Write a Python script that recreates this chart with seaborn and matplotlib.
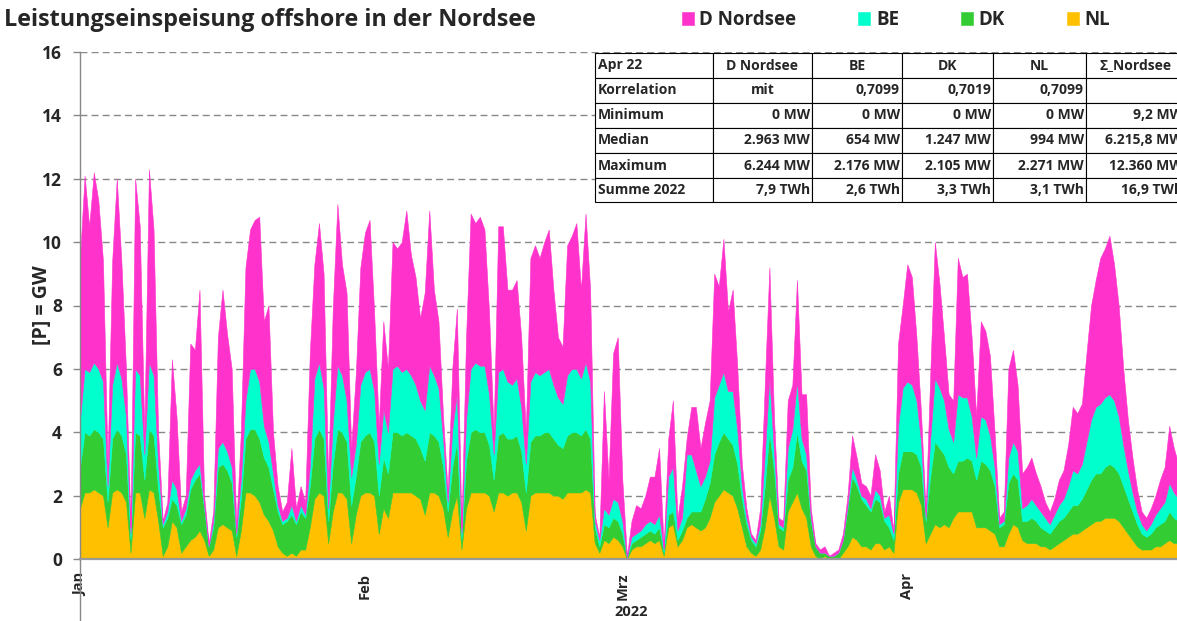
import pandas as pd
import matplotlib
matplotlib.use("Agg")
import matplotlib.pyplot as plt
import matplotlib.patches as mpatches
import seaborn as sns

# Leistung in GW, Stuetzstellen alle 12 Stunden ab 01.01.2022
zeit = pd.date_range("2022-01-01", periods=240, freq="12h")

nl = [
    1.6, 2.1, 2.1, 2.2, 2.1, 2.0, 1.0, 2.1, 2.2, 2.1,
    1.8, 0.2, 2.1, 2.1, 1.3, 2.2, 2.1, 1.2, 0.1, 0.4,
    1.2, 1.0, 0.2, 0.4, 0.6, 0.7, 0.9, 0.6, 0.1, 0.3,
    1.0, 1.1, 1.0, 0.9, 0.1, 0.9, 2.1, 2.1, 2.0, 1.8,
    1.4, 1.2, 0.9, 0.4, 0.2, 0.1, 0.2, 0.1, 0.3, 0.3,
    1.0, 1.9, 2.1, 2.0, 0.5, 1.5, 2.1, 2.1, 1.9, 0.5,
    1.4, 2.0, 2.1, 2.1, 2.0, 0.8, 1.6, 1.3, 2.1, 2.1,
    2.1, 2.1, 2.1, 2.0, 1.9, 1.4, 2.1, 2.1, 2.0, 1.6,
    0.7, 1.5, 2.0, 0.3, 1.6, 2.1, 2.1, 2.1, 2.1, 2.0,
    1.5, 2.1, 2.1, 2.0, 2.1, 2.1, 1.8, 0.9, 2.0, 2.1,
    2.1, 2.1, 2.1, 2.0, 2.0, 1.9, 2.1, 2.1, 2.1, 2.1,
    2.2, 2.1, 0.5, 0.2, 0.6, 0.5, 0.7, 0.6, 0.4, 0.0,
    0.3, 0.4, 0.4, 0.5, 0.6, 0.5, 0.6, 0.1, 1.0, 1.1,
    0.4, 0.6, 1.0, 1.1, 1.0, 0.9, 1.0, 1.3, 1.8, 2.0,
    2.2, 2.1, 2.0, 1.6, 1.0, 0.4, 0.2, 0.1, 0.3, 1.0,
    2.0, 1.3, 0.4, 0.3, 1.5, 1.8, 2.1, 1.6, 1.3, 0.4,
    0.1, 0.0, 0.1, 0.0, 0.0, 0.0, 0.2, 0.4, 0.7, 0.6,
    0.4, 0.4, 0.3, 0.5, 0.5, 0.3, 0.4, 0.2, 1.8, 2.2,
    2.2, 2.2, 2.1, 1.7, 0.5, 0.8, 1.1, 1.0, 1.1, 1.0,
    1.3, 1.5, 1.5, 1.5, 1.5, 1.0, 1.0, 1.0, 0.9, 0.8,
    0.4, 0.4, 0.8, 1.1, 1.0, 0.6, 0.5, 0.5, 0.5, 0.4,
    0.4, 0.3, 0.4, 0.5, 0.6, 0.7, 0.8, 0.8, 0.9, 1.0,
    1.1, 1.2, 1.2, 1.3, 1.3, 1.3, 1.2, 1.0, 0.8, 0.6,
    0.4, 0.3, 0.3, 0.3, 0.4, 0.4, 0.5, 0.6, 0.5, 0.5,
]

dk = [
    1.3, 1.9, 1.8, 1.9, 1.9, 1.8, 0.8, 1.7, 1.9, 1.8,
    1.5, 0.4, 1.9, 1.8, 1.2, 1.9, 1.8, 1.0, 0.9, 0.9,
    0.7, 0.7, 0.9, 1.0, 1.6, 1.8, 1.8, 1.0, 0.3, 0.7,
    1.9, 1.9, 1.8, 1.5, 0.6, 1.0, 1.7, 2.0, 2.1, 2.0,
    1.8, 1.7, 1.3, 1.1, 0.9, 1.1, 1.2, 1.0, 1.2, 1.0,
    1.3, 1.9, 2.0, 1.8, 0.7, 1.5, 2.0, 1.9, 1.8, 1.2,
    1.2, 1.7, 1.8, 1.9, 1.7, 1.2, 1.6, 1.4, 1.9, 1.9,
    1.8, 1.9, 1.8, 1.8, 1.6, 1.7, 1.9, 1.8, 1.7, 1.3,
    0.8, 1.4, 1.7, 0.3, 1.5, 1.9, 2.0, 1.9, 1.9, 1.6,
    1.0, 1.8, 1.9, 1.8, 1.7, 1.8, 1.6, 1.2, 1.7, 1.8,
    1.8, 1.9, 1.9, 1.8, 1.6, 1.6, 1.8, 1.9, 1.9, 1.8,
    1.9, 1.7, 0.5, 0.2, 0.5, 0.5, 0.6, 0.6, 0.4, 0.05,
    0.2, 0.2, 0.3, 0.3, 0.3, 0.3, 0.4, 0.1, 0.4, 0.4,
    0.2, 0.3, 0.3, 0.4, 0.5, 0.6, 0.9, 1.1, 1.5, 1.7,
    1.8, 1.7, 1.6, 1.4, 0.9, 0.7, 0.4, 0.3, 0.6, 1.3,
    2.0, 1.5, 0.6, 0.6, 1.0, 1.1, 1.9, 1.5, 1.5, 0.8,
    0.3, 0.2, 0.1, 0.1, 0.1, 0.2, 0.4, 1.2, 1.9, 1.7,
    1.5, 1.3, 1.2, 1.4, 1.3, 0.9, 0.6, 0.4, 0.9, 1.2,
    1.2, 1.2, 1.2, 1.2, 0.7, 1.8, 2.6, 2.5, 2.2, 1.9,
    1.4, 1.6, 1.6, 1.7, 1.6, 1.5, 2.1, 2.0, 1.9, 1.5,
    0.6, 0.7, 1.6, 1.6, 1.5, 0.6, 0.7, 0.8, 0.7, 0.6,
    0.5, 0.5, 0.6, 0.7, 0.7, 0.8, 0.9, 0.9, 1.0, 1.2,
    1.4, 1.5, 1.5, 1.6, 1.7, 1.6, 1.5, 1.3, 1.1, 0.9,
    0.7, 0.5, 0.4, 0.5, 0.6, 0.7, 0.7, 0.9, 0.8, 0.7,
]

be = [
    1.5, 2.0, 2.0, 2.1, 2.0, 1.8, 0.5, 1.7, 2.1, 1.8,
    1.2, 0.2, 2.0, 1.9, 0.8, 2.1, 1.9, 0.8, 0.1, 0.2,
    0.6, 0.5, 0.1, 0.2, 0.3, 0.3, 0.3, 0.1, 0.0, 0.2,
    0.6, 0.7, 0.6, 0.5, 0.1, 0.6, 1.2, 1.9, 1.9, 1.8,
    1.0, 0.8, 0.5, 0.2, 0.1, 0.1, 0.3, 0.1, 0.2, 0.1,
    0.6, 1.9, 2.1, 1.6, 0.4, 1.3, 2.0, 1.8, 1.3, 0.9,
    1.0, 1.8, 2.0, 2.0, 1.6, 1.0, 1.5, 1.3, 2.0, 2.1,
    2.0, 2.0, 1.9, 1.7, 1.5, 1.6, 2.1, 1.9, 1.7, 0.9,
    0.3, 1.2, 1.5, 0.2, 1.3, 2.0, 2.1, 2.1, 2.1, 1.6,
    0.8, 2.0, 2.0, 1.8, 1.7, 1.8, 1.4, 0.9, 1.9, 2.0,
    1.9, 1.9, 2.0, 1.7, 1.5, 1.4, 1.9, 2.0, 2.0, 1.8,
    2.1, 1.8, 0.2, 0.2, 0.5, 0.4, 0.6, 0.6, 0.4, 0.0,
    0.2, 0.2, 0.2, 0.3, 0.3, 0.3, 0.4, 0.1, 1.2, 1.4,
    0.3, 0.4, 2.0, 1.8, 1.3, 0.8, 0.7, 0.7, 1.8, 1.8,
    1.9, 1.5, 1.7, 1.1, 0.4, 0.2, 0.1, 0.1, 0.2, 1.0,
    1.7, 0.6, 0.1, 0.1, 1.0, 1.2, 1.6, 0.7, 0.5, 0.1,
    0.0, 0.0, 0.0, 0.0, 0.0, 0.0, 0.0, 0.1, 0.3, 0.2,
    0.1, 0.2, 0.1, 0.3, 0.2, 0.1, 0.4, 0.2, 1.5, 2.0,
    2.2, 2.1, 1.7, 0.8, 0.1, 1.2, 2.0, 1.9, 1.7, 1.2,
    1.0, 2.1, 2.0, 1.9, 1.4, 0.7, 1.4, 1.4, 1.1, 0.6,
    0.1, 0.1, 0.8, 1.0, 0.9, 0.4, 0.5, 0.6, 0.5, 0.5,
    0.4, 0.3, 0.4, 0.5, 0.6, 0.8, 1.1, 1.0, 1.1, 1.5,
    1.9, 2.1, 2.2, 2.2, 2.2, 2.1, 1.8, 1.3, 0.9, 0.6,
    0.4, 0.3, 0.2, 0.3, 0.4, 0.5, 0.6, 0.9, 0.8, 0.7,
]

d_nordsee = [
    5.1, 6.1, 4.6, 6.0, 5.3, 3.8, 0.7, 3.9, 5.8, 3.7,
    1.5, 0.2, 6.0, 4.7, 0.7, 6.1, 4.6, 1.0, 0.1, 0.3,
    3.8, 2.3, 0.3, 0.4, 4.3, 3.8, 5.5, 0.3, 0.1, 0.3,
    3.5, 4.8, 3.7, 3.1, 0.2, 1.5, 4.2, 4.4, 4.7, 5.2,
    3.3, 4.3, 1.3, 0.6, 0.3, 0.5, 1.8, 0.4, 0.6, 0.4,
    3.6, 3.6, 4.4, 3.6, 0.9, 3.6, 5.1, 3.5, 3.4, 0.9,
    2.2, 3.7, 4.4, 4.7, 2.5, 1.2, 2.8, 2.0, 4.0, 3.7,
    4.1, 5.0, 3.8, 3.4, 2.6, 3.7, 4.9, 2.7, 2.1, 0.7,
    0.3, 1.9, 2.7, 0.2, 2.6, 4.9, 4.4, 4.7, 4.3, 2.6,
    0.7, 4.6, 4.5, 2.9, 3.0, 3.1, 2.2, 1.0, 3.9, 4.0,
    3.7, 4.1, 4.4, 3.0, 1.9, 1.8, 4.1, 4.2, 4.6, 2.8,
    4.7, 2.9, 0.2, 0.1, 3.7, 1.1, 4.6, 5.2, 1.3, 0.05,
    0.5, 0.9, 0.7, 0.9, 1.4, 1.5, 2.1, 0.1, 1.2, 2.1,
    0.4, 1.0, 0.5, 1.5, 2.0, 1.2, 1.7, 1.9, 3.9, 3.1,
    4.2, 2.5, 3.2, 2.0, 0.7, 0.3, 0.1, 0.1, 0.5, 2.2,
    3.5, 1.1, 0.2, 0.2, 1.5, 1.4, 3.2, 1.4, 1.9, 0.3,
    0.1, 0.1, 0.2, 0.0, 0.1, 0.1, 0.2, 0.3, 1.0, 0.7,
    0.4, 0.4, 0.4, 1.1, 0.8, 0.2, 0.6, 0.1, 2.6, 2.6,
    3.7, 3.4, 2.0, 0.9, 0.2, 2.0, 4.3, 3.3, 2.0, 1.1,
    1.3, 4.3, 3.8, 3.9, 2.5, 1.3, 3.0, 2.8, 2.5, 1.1,
    0.2, 0.3, 2.8, 2.9, 2.1, 1.1, 1.2, 1.3, 1.0, 0.8,
    0.5, 0.4, 0.5, 0.8, 0.9, 1.3, 2.0, 1.9, 1.9, 2.8,
    3.6, 4.0, 4.6, 4.7, 5.0, 4.3, 3.5, 2.4, 1.6, 1.1,
    0.7, 0.4, 0.4, 0.5, 0.6, 0.9, 1.1, 1.8, 1.4, 1.1,
]

serien = ["NL", "DK", "BE", "D Nordsee"]
farben = ["#FFC000", "#33CC33", "#00FFCC", "#FF33CC"]

monate = ["Jan", "Feb", "Mrz", "Apr"]
monat_start = pd.to_datetime(["2022-01-01", "2022-02-01", "2022-03-01", "2022-04-01"])

tabelle_kopf = ["Apr 22", "D Nordsee", "BE", "DK", "NL", "Σ_Nordsee"]
tabelle_zeilen = [
    ["Korrelation", "mit", "0,7099", "0,7019", "0,7099", ""],
    ["Minimum", "0 MW", "0 MW", "0 MW", "0 MW", "9,2 MW"],
    ["Median", "2.963 MW", "654 MW", "1.247 MW", "994 MW", "6.215,8 MW"],
    ["Maximum", "6.244 MW", "2.176 MW", "2.105 MW", "2.271 MW", "12.360 MW"],
    ["Summe 2022", "7,9 TWh", "2,6 TWh", "3,3 TWh", "3,1 TWh", "16,9 TWh"],
]

sns.set_theme(style="white")
plt.rcParams["font.family"] = ["Open Sans", "DejaVu Sans"]
plt.rcParams["font.weight"] = "bold"

W, H = 1177, 621
fig = plt.figure(figsize=(W / 100, H / 100), dpi=100)
ax = fig.add_axes([80 / W, 62 / H, 1103 / W, 507 / H])

flaechen = ax.stackplot(zeit, nl, dk, be, d_nordsee, colors=farben, labels=serien)
for f, c in zip(flaechen, farben):
    f.set_edgecolor(c)
    f.set_linewidth(0.4)

ax.set_xlim(pd.Timestamp("2022-01-01"), pd.Timestamp("2022-05-01"))
ax.set_ylim(0, 16)
ax.set_yticks(range(0, 17, 2))
ax.set_xticks(monat_start)
ax.set_xticklabels(monate, rotation=90, fontsize=10.5, fontweight="bold")
ax.tick_params(axis="y", left=True, length=5, width=1, color="#888888",
               labelsize=12.5, pad=8)
ax.tick_params(axis="x", bottom=False, pad=4)

ax.set_axisbelow(True)
ax.yaxis.grid(True, linestyle=(0, (5, 3)), color="#888888", linewidth=1)
ax.xaxis.grid(False)
sns.despine(ax=ax, top=True, right=True)
ax.spines["left"].set_color("#888888")
ax.spines["left"].set_linewidth(1)
ax.spines["bottom"].set_color("#999999")
ax.spines["bottom"].set_linewidth(1.6)
ax.plot([0, 0], [0, -62 / 507], transform=ax.transAxes, clip_on=False,
        color="#888888", lw=1)

fig.text(42 / W, 1 - 305 / H, "[P] = GW", rotation=90, ha="center", va="center",
         fontsize=14, fontweight="bold")
fig.text(631 / W, 1 - 612 / H, "2022", ha="center", va="center",
         fontsize=10.5, fontweight="bold")
fig.text(4 / W, 1 - 20 / H, "Leistungseinspeisung offshore in der Nordsee",
         ha="left", va="center", fontsize=16.8, fontweight="bold")

handles, labels = ax.get_legend_handles_labels()
fig.legend(handles[::-1], labels[::-1], ncol=4, loc="center left",
           bbox_to_anchor=(674 / W, 1 - 20 / H), frameon=False, fontsize=13.5,
           handlelength=0.65, handleheight=0.65, handletextpad=0.3,
           columnspacing=3.3, borderaxespad=0)

# Tabelle oben rechts
spalten = [595, 713, 812, 902, 993, 1086, 1185]
zeilen = [53, 78, 103, 128, 153, 178, 202]
alle_zeilen = [tabelle_kopf] + tabelle_zeilen
for r, zeile in enumerate(alle_zeilen):
    for c, txt in enumerate(zeile):
        x0, x1 = spalten[c], spalten[c + 1]
        y0, y1 = zeilen[r], zeilen[r + 1]
        fig.add_artist(mpatches.Rectangle((x0 / W, 1 - y1 / H), (x1 - x0) / W,
                                          (y1 - y0) / H, transform=fig.transFigure,
                                          facecolor="white", edgecolor="black",
                                          lw=0.8, zorder=5))
        yc = 1 - (y0 + y1) / 2 / H
        if c == 0:
            fig.text((x0 + 3) / W, yc, txt, ha="left", va="center", fontsize=10,
                     fontweight="bold", zorder=6)
        elif r == 0 or txt == "mit":
            fig.text((x0 + x1) / 2 / W, yc, txt, ha="center", va="center",
                     fontsize=10, fontweight="bold", zorder=6)
        else:
            fig.text((x1 - 2) / W, yc, txt, ha="right", va="center", fontsize=10,
                     fontweight="bold", zorder=6)

fig.savefig("out.png", dpi=100)
